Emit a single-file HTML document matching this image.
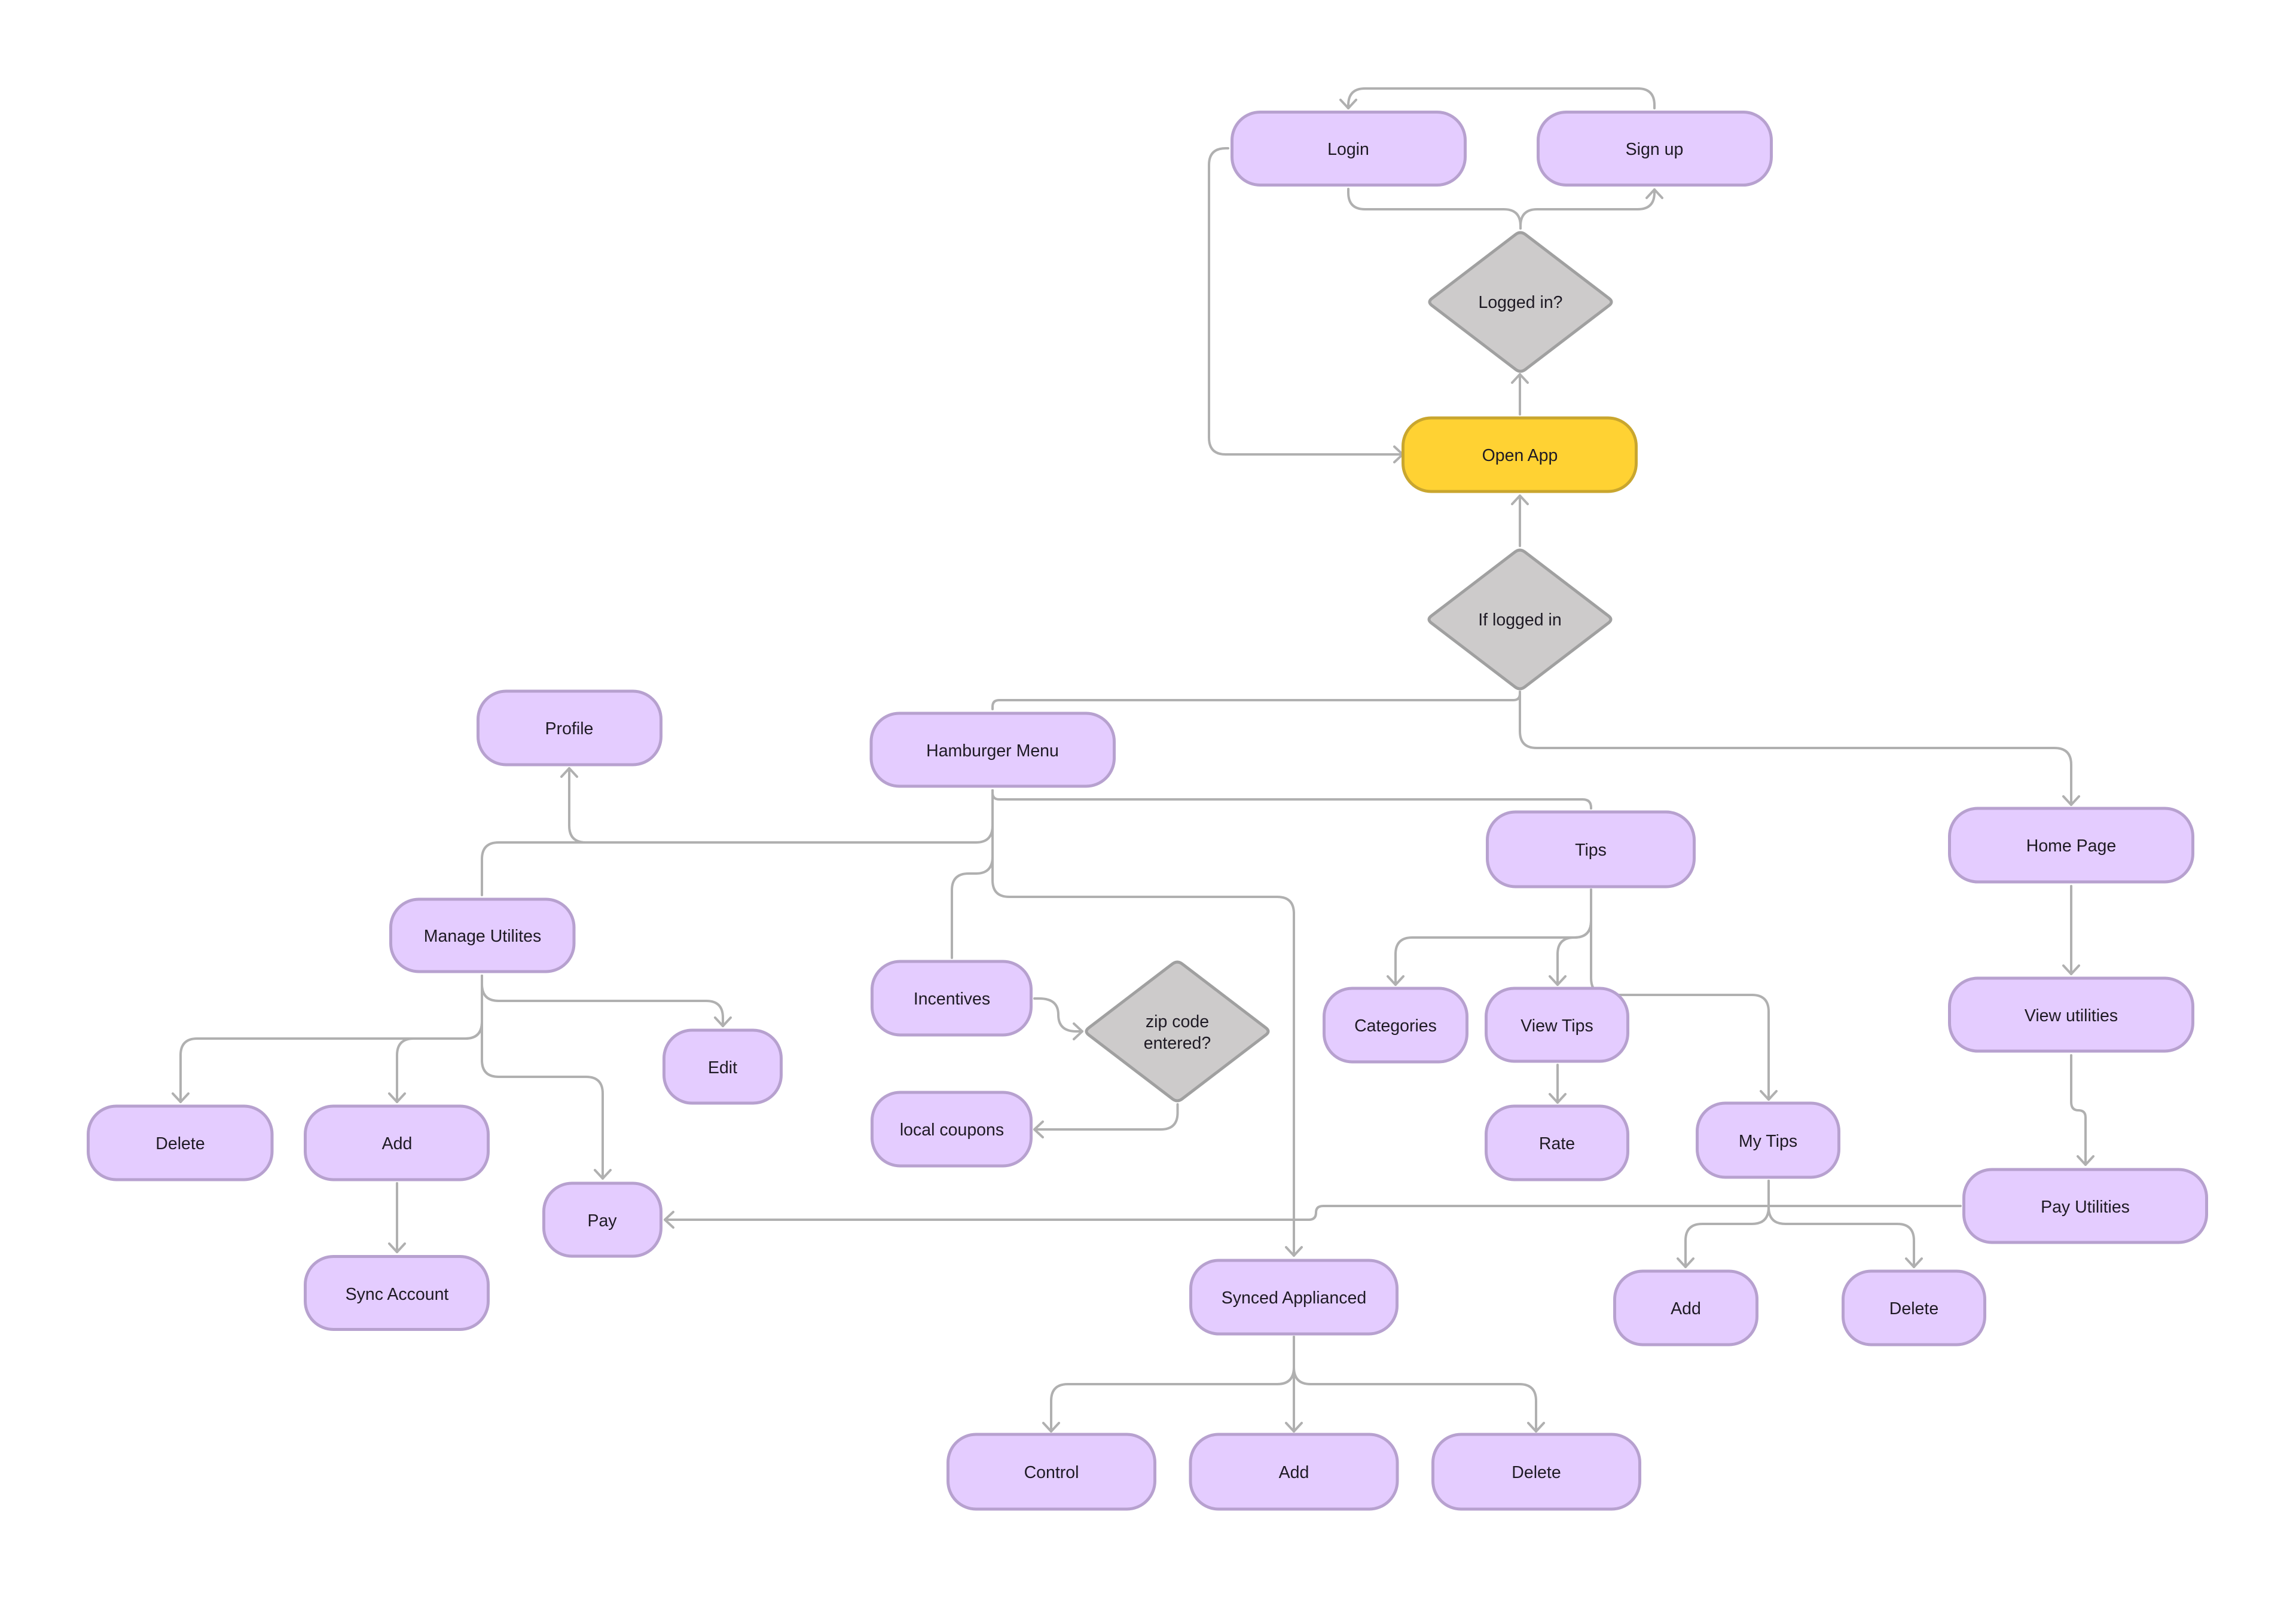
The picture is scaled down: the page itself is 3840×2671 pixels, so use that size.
<!DOCTYPE html>
<html>
<head>
<meta charset="utf-8">
<style>
html,body{margin:0;padding:0;background:#fff;}
svg{display:block;}
text{font-family:"Liberation Sans",sans-serif;font-size:28.5px;fill:#1e1a24;text-anchor:middle;}
.c{fill:none;stroke:#b0b0b0;stroke-width:4;stroke-linecap:round;}
.a{marker-end:url(#ah);}
.n{fill:#e4ccff;stroke:#b7a1cf;stroke-width:5;}
.y{fill:#ffd233;stroke:#c9a62e;stroke-width:5;}
.d{fill:#cdcbcb;stroke:#a0a0a0;stroke-width:5;stroke-linejoin:round;}
</style>
</head>
<body>
<svg width="3840" height="2671" viewBox="0 0 3840 2671" xmlns="http://www.w3.org/2000/svg">
<defs>
<marker id="ah" markerUnits="userSpaceOnUse" markerWidth="40" markerHeight="40" refX="30" refY="20" orient="auto" overflow="visible">
<path d="M16 7 L30 20 L16 33" fill="none" stroke="#b0b0b0" stroke-width="4" stroke-linecap="round" stroke-linejoin="round"/>
</marker>
</defs>
<rect width="3840" height="2671" fill="#fff"/>

<!-- connectors -->
<path class="c a" d="M2767 181 V176 Q2767 148 2739 148 H2283 Q2255 148 2255 176 V181"/>
<path class="c" d="M2255 316 V322 Q2255 350 2283 350 H2515 Q2543 350 2543 378 V382"/>
<path class="c a" d="M2543 382 V378 Q2543 350 2571 350 H2739 Q2767 350 2767 322 V317"/>
<path class="c a" d="M2054 248 H2050 Q2022 248 2022 276 V732 Q2022 760 2050 760 H2346"/>
<path class="c a" d="M2542 693 V626"/>
<path class="c a" d="M2542 913 V829"/>
<path class="c" d="M2542 1157 V1160 Q2542 1171 2531 1171 H1671 Q1660 1171 1660 1182 V1186"/>
<path class="c a" d="M2542 1157 V1223 Q2542 1251 2570 1251 H3436 Q3464 1251 3464 1279 V1346"/>
<path class="c" d="M1660 1322 V1326 Q1660 1337 1671 1337 H2647 Q2661 1337 2661 1351 V1352"/>
<path class="c" d="M1660 1322 V1381 Q1660 1409 1632 1409 H834 Q806 1409 806 1437 V1497"/>
<path class="c a" d="M980 1409 Q952 1409 952 1381 V1285"/>
<path class="c" d="M1660 1322 V1433 Q1660 1461 1632 1461 H1620 Q1592 1461 1592 1489 V1602"/>
<path class="c a" d="M1660 1322 V1472 Q1660 1500 1688 1500 H2136 Q2164 1500 2164 1528 V2100"/>
<path class="c a" d="M1730 1670 H1738 Q1770 1670 1770 1697 Q1770 1725 1800 1725 H1810"/>
<path class="c a" d="M1969.5 1847 V1861 Q1969.5 1889 1941 1889 H1730"/>
<path class="c a" d="M2661 1488 V1540 Q2661 1568 2633 1568 H2362 Q2334 1568 2334 1596 V1647"/>
<path class="c a" d="M2661 1488 V1540 Q2661 1568 2633 1568 Q2605 1568 2605 1596 V1647"/>
<path class="c a" d="M2661 1488 V1636 Q2661 1664 2689 1664 H2930 Q2958 1664 2958 1692 V1839"/>
<path class="c a" d="M2605 1781 V1844"/>
<path class="c a" d="M2958 1975 V2019 Q2958 2047 2930 2047 H2847 Q2819 2047 2819 2075 V2119"/>
<path class="c a" d="M2958 1975 V2019 Q2958 2047 2986 2047 H3173 Q3201 2047 3201 2075 V2119"/>
<path class="c a" d="M3464 1482 V1629"/>
<path class="c a" d="M3464 1765 V1843 Q3464 1857 3476 1857 Q3488 1857 3488 1869 V1948"/>
<path class="c a" d="M3279 2017 H2213 Q2201 2017 2201 2028 Q2201 2040 2189 2040 H1112"/>
<path class="c a" d="M806 1632 V1646 Q806 1674 834 1674 H1181 Q1209 1674 1209 1702 V1716"/>
<path class="c a" d="M806 1632 V1709 Q806 1737 778 1737 H330 Q302 1737 302 1765 V1843"/>
<path class="c a" d="M806 1632 V1709 Q806 1737 778 1737 H692 Q664 1737 664 1765 V1843"/>
<path class="c a" d="M806 1632 V1773 Q806 1801 834 1801 H980 Q1008 1801 1008 1829 V1971"/>
<path class="c a" d="M664 1979 V2094"/>
<path class="c a" d="M2164 2236 V2287 Q2164 2315 2136 2315 H1786 Q1758 2315 1758 2343 V2394"/>
<path class="c a" d="M2164 2236 V2287 Q2164 2315 2192 2315 H2541 Q2569 2315 2569 2343 V2394"/>
<path class="c a" d="M2164 2236 V2394"/>

<!-- nodes -->
<rect class="n" x="2060.5" y="187.5" width="390" height="122" rx="47"/><text x="2255" y="259">Login</text>
<rect class="n" x="2572.5" y="187.5" width="390" height="122" rx="47"/><text x="2767" y="259">Sign up</text>
<path class="d" transform="translate(2543 505)" d="M-8 -113 Q0 -119 8 -113 L148 -6 Q156 0 148 6 L8 113 Q0 119 -8 113 L-148 6 Q-156 0 -148 -6 Z"/><text x="2543" y="515">Logged in?</text>
<rect class="y" x="2346.5" y="699" width="390" height="123" rx="47"/><text x="2542" y="771">Open App</text>
<path class="d" transform="translate(2542 1036)" d="M-8 -113 Q0 -119 8 -113 L148 -6 Q156 0 148 6 L8 113 Q0 119 -8 113 L-148 6 Q-156 0 -148 -6 Z"/><text x="2542" y="1046">If logged in</text>
<rect class="n" x="1457" y="1193" width="406.5" height="122" rx="47"/><text x="1660" y="1265">Hamburger Menu</text>
<rect class="n" x="799.5" y="1156" width="306" height="123" rx="47"/><text x="952" y="1228">Profile</text>
<rect class="n" x="653.5" y="1504" width="306.5" height="121" rx="47"/><text x="807" y="1575">Manage Utilites</text>
<rect class="n" x="2487.5" y="1358" width="346" height="125" rx="47"/><text x="2660.5" y="1431">Tips</text>
<rect class="n" x="3260.5" y="1352" width="407" height="123" rx="47"/><text x="3464" y="1424">Home Page</text>
<rect class="n" x="3260.5" y="1636" width="407" height="122" rx="47"/><text x="3464" y="1708">View utilities</text>
<rect class="n" x="3284.5" y="1956" width="406" height="122" rx="47"/><text x="3487.5" y="2028">Pay Utilities</text>
<rect class="n" x="1458.5" y="1608" width="266" height="123" rx="47"/><text x="1592" y="1680">Incentives</text>
<rect class="n" x="1458.5" y="1827" width="266" height="123" rx="47"/><text x="1592" y="1899">local coupons</text>
<path class="d" transform="translate(1969 1725)" d="M-8 -113 Q0 -119 8 -113 L148 -6 Q156 0 148 6 L8 113 Q0 119 -8 113 L-148 6 Q-156 0 -148 -6 Z"/><text x="1969" y="1718">zip code</text><text x="1969" y="1754">entered?</text>
<rect class="n" x="2214.5" y="1653" width="239" height="123" rx="47"/><text x="2334" y="1725">Categories</text>
<rect class="n" x="2485.5" y="1653" width="237" height="122" rx="47"/><text x="2604" y="1725">View Tips</text>
<rect class="n" x="2485.5" y="1850" width="237" height="123" rx="47"/><text x="2604" y="1922">Rate</text>
<rect class="n" x="2838.5" y="1845" width="237" height="124" rx="47"/><text x="2957" y="1918">My Tips</text>
<rect class="n" x="2700.5" y="2126" width="238" height="123" rx="47"/><text x="2819.5" y="2198">Add</text>
<rect class="n" x="3082.5" y="2126" width="237" height="123" rx="47"/><text x="3201" y="2198">Delete</text>
<rect class="n" x="1110.5" y="1723" width="196" height="122" rx="47"/><text x="1208.5" y="1795">Edit</text>
<rect class="n" x="147.5" y="1850" width="307.5" height="123" rx="47"/><text x="301.5" y="1922">Delete</text>
<rect class="n" x="510.5" y="1850" width="306" height="123" rx="47"/><text x="664" y="1922">Add</text>
<rect class="n" x="909.5" y="1979" width="196" height="122" rx="47"/><text x="1007" y="2051">Pay</text>
<rect class="n" x="510.5" y="2101.5" width="306" height="122" rx="47"/><text x="664" y="2174">Sync Account</text>
<rect class="n" x="1991.5" y="2108" width="345" height="123" rx="47"/><text x="2164" y="2180">Synced Applianced</text>
<rect class="n" x="1585.5" y="2399" width="346" height="125" rx="47"/><text x="1758.5" y="2472">Control</text>
<rect class="n" x="1991" y="2399" width="346" height="125" rx="47"/><text x="2164" y="2472">Add</text>
<rect class="n" x="2396.5" y="2399" width="346" height="125" rx="47"/><text x="2569.5" y="2472">Delete</text>
</svg>
</body>
</html>
